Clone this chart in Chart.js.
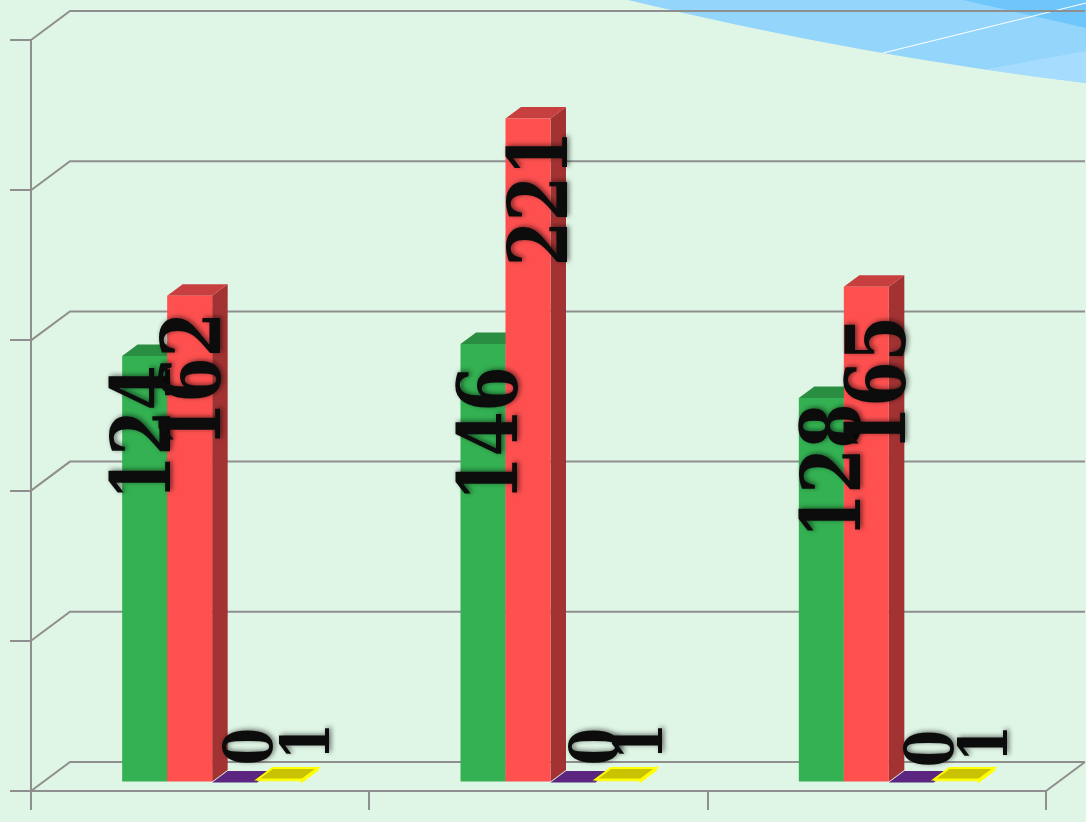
<!DOCTYPE html>
<html>
<head>
<meta charset="utf-8">
<style>
  html, body { margin: 0; padding: 0; background: #dff5e5; }
  canvas { display: block; }
</style>
<script src="https://cdn.jsdelivr.net/npm/chart.js@4/dist/chart.umd.min.js"></script>
</head>
<body>
<canvas id="chart" width="1086" height="822"></canvas>
<script>
const categories = ['Group 1', 'Group 2', 'Group 3'];

const greenValues = [142, 146, 128];
const redValues = [162, 221, 165];
const purpleValues = [0, 0, 0];
const yellowValues = [1, 1, 1];

// the first green bar is labelled 124 in the reference though it is as tall as 142
const greenLabels = ['124', '146', '128'];
const redLabels = ['162', '221', '165'];
const purpleLabels = ['0', '0', '0'];
const yellowLabels = ['1', '1', '1'];

const yTicks = { min: 0, max: 250, stepSize: 50 };

// hand placed labels, offset from the top centre of each bar
const labelNudges = [
    [[-4.5, 77], [4, 90], [9, 73]],
    [[0.5, 84], [9, 80], [8.5, 97]],
    [[12.5, -36], [20, -36], [16.5, -34]],
    [[24.5, -38], [19, -38], [25.5, -36]]
];
const labelSizes = [82, 82, 68, 68];

const seriesLabels = [greenLabels, redLabels, purpleLabels, yellowLabels];
const axisColor = '#8f8f8f';
const wall = { dx: 39, dy: -29 };        // floor depth of the box
const barShift = { dx: 12, dy: -8.5 };   // bars stand inside the floor
const barDepth = { dx: 15.5, dy: -11.5 };    // depth of one bar

function drawBackground(ctx) {
    ctx.save();
    ctx.fillStyle = '#dff5e5';
    ctx.fillRect(0, 0, 1086, 822);

    ctx.beginPath();
    ctx.moveTo(628, 0);
    ctx.quadraticCurveTo(857, 55.5, 1086, 83);
    ctx.lineTo(1086, 0);
    ctx.closePath();
    ctx.fillStyle = '#94d5fb';
    ctx.fill();
    ctx.clip();

    ctx.fillStyle = '#6ec6fb';
    ctx.beginPath();
    ctx.moveTo(963, 0);
    ctx.lineTo(1086, 28);
    ctx.lineTo(1086, 0);
    ctx.fill();

    ctx.fillStyle = '#a6dcfd';
    ctx.beginPath();
    ctx.moveTo(982, 70);
    ctx.lineTo(1086, 51);
    ctx.lineTo(1086, 90);
    ctx.lineTo(982, 90);
    ctx.fill();

    ctx.strokeStyle = '#ffffff';
    ctx.lineWidth = 1;
    ctx.beginPath();
    ctx.moveTo(883, 53);
    ctx.lineTo(1086, 3);
    ctx.stroke();
    ctx.restore();
}

function drawWalls(chart) {
    const ctx = chart.ctx;
    const { x, y } = chart.scales;
    ctx.save();
    ctx.strokeStyle = axisColor;
    ctx.lineWidth = 2;
    ctx.beginPath();
    y.ticks.forEach((tick, i) => {
        const py = y.getPixelForTick(i);
        ctx.moveTo(x.left, py);
        ctx.lineTo(x.left + wall.dx, py + wall.dy);
        ctx.lineTo(x.right + wall.dx, py + wall.dy);
    });
    ctx.moveTo(x.right, y.bottom);
    ctx.lineTo(x.right + wall.dx, y.bottom + wall.dy);
    ctx.stroke();
    ctx.restore();
}

function face(ctx, points, color, stroke) {
    ctx.beginPath();
    points.forEach((p, i) => i ? ctx.lineTo(p[0], p[1]) : ctx.moveTo(p[0], p[1]));
    ctx.closePath();
    ctx.fillStyle = color;
    ctx.fill();
    if (stroke) {
        ctx.strokeStyle = stroke;
        ctx.lineWidth = 2;
        ctx.stroke();
    }
}

function drawBarFaces(ctx, bar, ds) {
    const left = bar.x - bar.width / 2;
    const right = bar.x + bar.width / 2;
    const top = bar.y;
    const bottom = bar.base;
    const stroke = ds.borderWidth ? ds.borderColor : null;
    face(ctx, [[right, top], [right + barDepth.dx, top + barDepth.dy],
        [right + barDepth.dx, bottom + barDepth.dy], [right, bottom]], ds.sideColor, stroke);
    face(ctx, [[left, top], [left + barDepth.dx, top + barDepth.dy],
        [right + barDepth.dx, top + barDepth.dy], [right, top]], ds.topColor, stroke);
}

const box3d = {
    id: 'box3d',
    beforeDraw(chart) {
        drawBackground(chart.ctx);
    },
    beforeDatasetsDraw(chart) {
        const ctx = chart.ctx;
        drawWalls(chart);
        ctx.save();
        ctx.translate(barShift.dx, barShift.dy);
        // left to right, so each bar hides the side of the one before it
        chart.data.datasets.forEach((ds, i) => {
            chart.getDatasetMeta(i).data.forEach(bar => {
                drawBarFaces(ctx, bar, ds);
                bar.draw(ctx, chart.chartArea);
            });
        });
        ctx.restore();
        return false;
    },
    afterDraw(chart) {
        const ctx = chart.ctx;
        ctx.save();
        ctx.textAlign = 'center';
        ctx.textBaseline = 'alphabetic';
        ctx.fillStyle = '#0c0c0c';
        ctx.shadowColor = 'rgba(0,0,0,0.55)';
        ctx.shadowBlur = 5;
        ctx.shadowOffsetX = 2;
        ctx.shadowOffsetY = -1;
        seriesLabels.forEach((labels, s) => {
            ctx.font = 'bold ' + labelSizes[s] + 'px "DejaVu Serif"';
            chart.getDatasetMeta(s).data.forEach((bar, i) => {
                const nudge = labelNudges[s][i];
                ctx.save();
                ctx.translate(bar.x + barShift.dx + nudge[0], bar.y + barShift.dy + nudge[1]);
                ctx.rotate(-Math.PI / 2);
                ctx.scale(0.79, 1);
                // digits are 0.73em tall, this centres them across the bar
                ctx.fillText(labels[i], 0, labelSizes[s] * 0.365);
                ctx.restore();
            });
        });
        ctx.restore();
    }
};

new Chart(document.getElementById('chart').getContext('2d'), {
    type: 'bar',
    data: {
        labels: categories,
        datasets: [
            { label: 'Green', data: greenValues, backgroundColor: '#34b152', topColor: '#2a8e42', sideColor: '#247a39' },
            { label: 'Red', data: redValues, backgroundColor: '#ff5050', topColor: '#c83f3f', sideColor: '#a33333' },
            { label: 'Purple', data: purpleValues, backgroundColor: '#5a2680', topColor: '#5a2680', sideColor: '#48206a' },
            { label: 'Yellow', data: yellowValues, backgroundColor: '#ffff00', topColor: '#c8c200', sideColor: '#d8d400',
              borderColor: '#ffff00', borderWidth: 1 }
        ]
    },
    options: {
        responsive: false,
        animation: false,
        categoryPercentage: 0.532,
        barPercentage: 1,
        layout: { padding: { left: 10, right: 40, top: 40, bottom: 12 } },
        plugins: { legend: { display: false }, title: { display: false }, tooltip: { enabled: false } },
        scales: {
            x: {
                ticks: { display: false },
                grid: { drawOnChartArea: false, tickLength: 19, color: axisColor, lineWidth: 2 },
                border: { color: axisColor, width: 2 }
            },
            y: {
                min: yTicks.min,
                max: yTicks.max,
                ticks: { display: false, stepSize: yTicks.stepSize },
                grid: { drawOnChartArea: false, tickLength: 21, color: axisColor, lineWidth: 2 },
                border: { color: axisColor, width: 2 }
            }
        }
    },
    plugins: [box3d]
});
</script>
</body>
</html>
